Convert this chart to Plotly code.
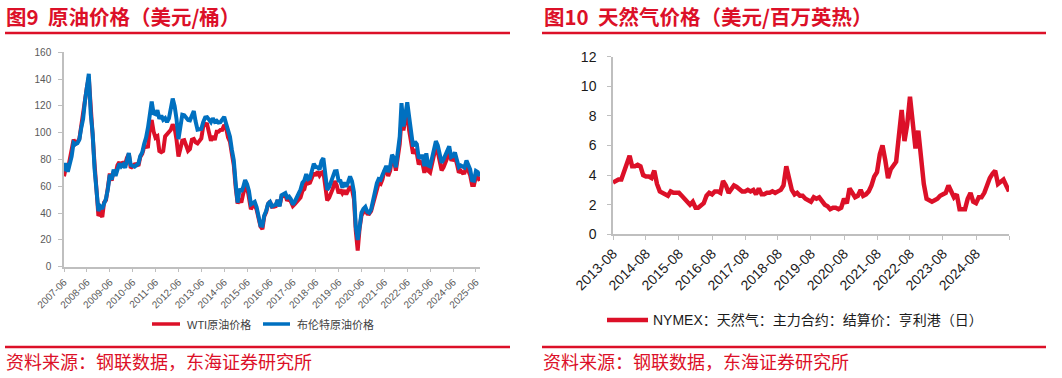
import pandas as pd
import plotly.graph_objects as go

# ---------------- data (monthly) ----------------
wti = [
    67.5, 74.1, 72.4, 79.9, 85.8, 94.8, 91.7,
    93.0, 95.4, 105.5, 112.6, 125.4, 134.0, 141.0, 116.7, 104.1, 76.6, 57.3, 38.0,
    40.0, 37.0, 47.9, 49.6, 59.0, 69.6, 64.2, 71.0, 69.4, 75.7, 78.0, 74.5,
    78.3, 76.4, 81.2, 84.3, 73.7, 75.3, 76.3, 76.6, 75.2, 81.9, 84.3, 89.2,
    89.6, 89.7, 102.9, 109.5, 100.9, 96.3, 97.3, 86.3, 85.5, 86.3, 97.2, 98.6,
    100.3, 102.2, 106.2, 103.3, 94.7, 82.3, 87.9, 94.1, 94.5, 89.5, 86.5, 87.9,
    94.8, 95.3, 92.9, 92.0, 94.5, 95.8, 104.6, 106.6, 106.3, 100.5, 93.9, 97.6,
    94.6, 100.8, 100.8, 102.1, 102.2, 105.8, 103.6, 96.5, 93.2, 84.4, 75.8, 59.3,
    47.2, 50.6, 47.8, 54.5, 59.3, 59.8, 50.9, 42.9, 45.5, 46.2, 42.4, 37.2,
    30.0, 28.0, 37.5, 40.8, 46.7, 48.8, 44.7, 44.7, 45.2, 49.8, 45.7, 52.0,
    52.5, 53.5, 49.3, 51.1, 48.5, 45.2, 46.6, 48.0, 49.8, 51.6, 56.6, 57.9,
    63.7, 62.2, 62.7, 66.3, 70.0, 67.9, 71.0, 68.1, 70.2, 70.8, 57.0, 49.5,
    51.4, 55.0, 58.2, 63.9, 60.8, 54.7, 57.4, 54.8, 57.0, 54.0, 57.0, 59.9,
    57.5, 50.5, 27.0, 12.0, 28.5, 38.3, 40.7, 42.3, 39.6, 39.4, 41.4, 47.0,
    52.0, 59.0, 62.3, 61.7, 65.2, 71.4, 72.5, 67.7, 71.6, 81.5, 79.2, 71.7,
    83.2, 91.6, 110.0, 101.8, 109.6, 115.0, 101.6, 93.7, 84.3, 87.6, 84.4, 76.4,
    78.1, 76.8, 70.0, 79.4, 71.6, 70.3, 76.1, 81.4, 89.4, 85.6, 77.7, 71.9,
    74.2, 77.3, 81.3, 85.4, 80.0, 79.8, 81.8, 76.7, 70.2, 71.6, 69.9, 70.1,
    75.1, 71.5, 68.2, 61.0, 61.0, 67.3, 66.9, 64.0,
]
brent = [
    71.3, 77.2, 70.8, 77.2, 82.3, 92.5, 91.5,
    92.2, 94.9, 103.3, 110.2, 123.9, 133.1, 144.0, 113.9, 99.1, 72.8, 53.2, 41.6,
    44.9, 43.2, 47.0, 50.8, 57.9, 68.6, 64.9, 72.5, 67.7, 73.2, 77.0, 74.7,
    76.2, 73.8, 78.8, 84.8, 75.9, 75.0, 74.6, 75.8, 77.0, 82.7, 85.3, 91.5,
    96.3, 103.9, 114.4, 123.2, 114.5, 113.9, 116.7, 110.4, 112.8, 109.6, 110.8, 107.9,
    110.7, 119.3, 125.5, 119.8, 110.3, 95.2, 102.6, 113.4, 113.0, 111.5, 109.5, 109.2,
    112.3, 116.1, 108.5, 102.3, 102.6, 102.9, 107.9, 111.3, 111.6, 109.1, 107.8, 110.8,
    108.1, 108.9, 107.5, 107.8, 109.5, 111.8, 106.8, 101.6, 97.1, 87.4, 79.4, 62.3,
    47.8, 58.1, 55.9, 59.5, 64.6, 61.5, 56.6, 46.5, 47.6, 48.4, 44.3, 38.0,
    30.7, 30.5, 38.2, 41.6, 46.9, 48.3, 45.0, 45.7, 46.3, 49.7, 45.0, 53.3,
    54.6, 54.9, 51.6, 52.3, 50.3, 46.4, 48.5, 51.7, 56.2, 57.5, 62.7, 64.4,
    69.1, 65.3, 66.0, 72.1, 76.9, 74.4, 74.3, 72.5, 78.9, 81.0, 64.8, 57.4,
    59.4, 64.0, 66.1, 71.2, 71.3, 64.2, 63.9, 59.0, 62.8, 59.7, 63.2, 67.3,
    63.7, 55.7, 30.0, 20.0, 29.4, 40.3, 43.2, 44.7, 40.9, 40.2, 42.7, 49.9,
    54.8, 62.3, 65.4, 64.8, 68.5, 73.2, 75.2, 70.7, 74.5, 83.5, 81.1, 74.2,
    86.5, 97.1, 122.0, 104.6, 113.3, 122.7, 111.9, 100.5, 89.8, 93.3, 91.4, 80.9,
    82.5, 82.6, 75.0, 84.6, 75.5, 74.8, 80.1, 86.2, 93.7, 90.6, 82.9, 77.6,
    80.1, 83.5, 85.4, 89.9, 81.8, 82.6, 85.2, 80.4, 74.3, 75.6, 74.4, 74.0,
    79.3, 75.2, 72.6, 64.5, 64.2, 71.4, 70.5, 67.5,
]
gas = [
    3.5, 3.6, 3.7, 3.7, 4.2,
    4.6, 5.3, 4.6, 4.6, 4.7, 4.6, 4.0, 3.9, 3.9, 3.8, 4.3, 3.4,
    2.9, 2.8, 2.7, 2.6, 2.9, 2.8, 2.8, 2.8, 2.6, 2.4, 2.2, 2.0,
    2.2, 1.8, 1.8, 2.0, 2.1, 2.6, 2.8, 2.7, 2.9, 2.9, 2.8, 3.6,
    3.3, 2.8, 3.0, 3.3, 3.2, 3.0, 2.9, 2.9, 3.0, 2.9, 3.0, 2.7,
    3.1, 2.7, 2.7, 2.8, 2.8, 2.9, 2.8, 2.9, 3.0, 3.3, 4.6, 3.8,
    3.0, 2.7, 2.8, 2.6, 2.6, 2.4, 2.3, 2.2, 2.5, 2.4, 2.5, 2.2,
    2.0, 1.9, 1.7, 1.8, 1.8, 1.7, 1.8, 2.4, 2.1, 3.1, 2.8, 2.5,
    2.6, 3.0, 2.6, 2.7, 2.9, 3.3, 3.9, 4.2, 5.4, 6.0, 5.0, 3.8,
    4.4, 4.7, 4.9, 6.7, 8.4, 6.3, 7.4, 9.3, 7.5, 5.8, 7.0, 5.0,
    3.4, 2.4, 2.3, 2.2, 2.3, 2.4, 2.6, 2.7, 2.8, 3.3, 2.8, 2.5,
    2.7, 1.7, 1.7, 1.7, 2.4, 2.8, 2.2, 2.1, 2.5, 2.5, 2.8, 3.3,
    3.8, 4.1, 4.3, 3.4, 3.6, 3.7, 3.3, 2.9,
]
oil_dates = pd.date_range("2007-06-01", periods=len(wti), freq="MS")
gas_dates = pd.date_range("2013-08-01", periods=len(gas), freq="MS")

oil_tick_labels = [f"{y}-06" for y in range(2007, 2026)]
gas_tick_labels = [f"{y}-08" for y in range(2013, 2025)]
oil_y_ticks = [0, 20, 40, 60, 80, 100, 120, 140, 160]
gas_y_ticks = [0, 2, 4, 6, 8, 10, 12]

title_left = "图9  原油价格（美元/桶）"
title_right = "图10  天然气价格（美元/百万英热）"
source_text = "资料来源：钢联数据，东海证券研究所"
name_wti = "WTI原油价格"
name_brent = "布伦特原油价格"
name_gas = "NYMEX：天然气：主力合约：结算价：亨利港（日）"

# ---------------- styles ----------------
W, H = 1062, 378
RED = "#DC1028"
BLUE = "#0070C0"
AXIS = "#BFBFBF"
FONT = "Liberation Sans, Arial, Noto Sans CJK SC, sans-serif"
CJK = "Noto Sans CJK SC, Liberation Sans, sans-serif"


def px(x):
    return x / W


def py(y):
    return 1 - y / H


fig = go.Figure()
fig.add_trace(go.Scatter(x=oil_dates, y=wti, mode="lines", name=name_wti,
                         line=dict(color=RED, width=4), xaxis="x", yaxis="y",
                         showlegend=False))
fig.add_trace(go.Scatter(x=oil_dates, y=brent, mode="lines", name=name_brent,
                         line=dict(color=BLUE, width=4), xaxis="x", yaxis="y",
                         showlegend=False))
fig.add_trace(go.Scatter(x=gas_dates, y=gas, mode="lines", name=name_gas,
                         line=dict(color=RED, width=4.5), xaxis="x2", yaxis="y2",
                         showlegend=False))

axis_common = dict(showline=True, linecolor=AXIS, linewidth=1.5, ticks="outside",
                   ticklen=4, tickcolor=AXIS, tickwidth=1.2, showgrid=False,
                   zeroline=False, fixedrange=True, automargin=False)

fig.update_layout(
    template="none",
    width=W, height=H,
    margin=dict(l=0, r=0, t=0, b=0, pad=0, autoexpand=False),
    paper_bgcolor="white", plot_bgcolor="white",
    font=dict(family=FONT, color="#404040"),
    xaxis=dict(domain=[px(64), px(480)],
               range=["2007-06-01", "2025-08-05"],
               tickmode="array",
               tickvals=[f"{t}-01" for t in oil_tick_labels],
               ticktext=oil_tick_labels, tickangle=-45,
               tickfont=dict(size=10, color="#595959", family=FONT),
               anchor="y", **axis_common),
    yaxis=dict(domain=[py(266.7), py(52.3)], range=[0, 160],
               tickmode="array", tickvals=oil_y_ticks,
               tickfont=dict(size=10, color="#595959", family=FONT),
               ticklabelstandoff=5,
               anchor="x", **axis_common),
    xaxis2=dict(domain=[px(613), px(1009)],
                range=["2013-08-01", "2025-08-01"],
                tickmode="array",
                tickvals=[f"{t}-01" for t in gas_tick_labels] + ["2025-08-01"],
                ticktext=gas_tick_labels + [""], tickangle=-45,
                tickfont=dict(size=14, color="#1a1a1a", family=FONT),
                anchor="y2", **axis_common),
    yaxis2=dict(domain=[py(234.3), py(56.7)], range=[0, 12],
                tickmode="array", tickvals=gas_y_ticks,
                tickfont=dict(size=14, color="#1a1a1a", family=FONT),
                ticklabelstandoff=8,
                anchor="x2", **axis_common),
)

shapes = []
annotations = []
# title underlines and source overlines
for x0, x1 in [(5, 510), (542, 1046)]:
    shapes.append(dict(type="line", xref="paper", yref="paper",
                       x0=px(x0), x1=px(x1), y0=py(33), y1=py(33),
                       line=dict(color=RED, width=2.5)))
    shapes.append(dict(type="line", xref="paper", yref="paper",
                       x0=px(x0), x1=px(x1), y0=py(347), y1=py(347),
                       line=dict(color=RED, width=2.5)))

for x0, txt in [(4, title_left), (542, title_right)]:
    annotations.append(dict(xref="paper", yref="paper", x=px(x0), y=py(16),
                            xanchor="left", yanchor="middle", showarrow=False,
                            text=f"<b>{txt}</b>",
                            font=dict(family=CJK, size=20.5, color=RED)))
for x0 in [4, 541]:
    annotations.append(dict(xref="paper", yref="paper", x=px(x0), y=py(361),
                            xanchor="left", yanchor="middle", showarrow=False,
                            text=source_text,
                            font=dict(family=CJK, size=18, color=RED)))

# legends
leg_items = [
    (152, 180, 185, 324, RED, name_wti, 11, 3.5),
    (263, 290, 295, 324, BLUE, name_brent, 11, 3.5),
    (607, 648, 651, 320, RED, name_gas, 14, 4.5),
]
for lx0, lx1, tx, ly, col, txt, fs, lw in leg_items:
    shapes.append(dict(type="line", xref="paper", yref="paper",
                       x0=px(lx0), x1=px(lx1), y0=py(ly), y1=py(ly),
                       line=dict(color=col, width=lw)))
    annotations.append(dict(xref="paper", yref="paper", x=px(tx), y=py(ly),
                            xanchor="left", yanchor="middle", showarrow=False,
                            text=txt,
                            font=dict(family=FONT, size=fs,
                                      color="#404040" if fs < 12 else "#1a1a1a")))

fig.update_layout(shapes=shapes, annotations=annotations)
fig.write_html("out.html",
               config={"displayModeBar": False},
               post_script="document.body.style.margin='0';"
                           "document.body.style.overflow='hidden';")
